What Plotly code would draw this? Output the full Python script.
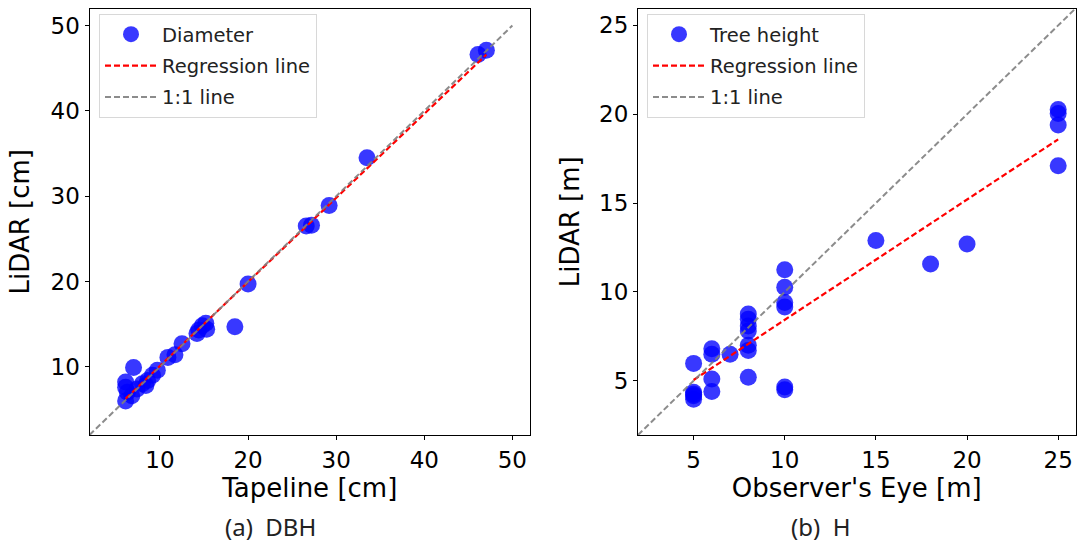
import plotly.graph_objects as go

# ---- data ----
dbh_tape = [47.05, 46.1, 33.5, 29.2, 26.6, 27.2, 20.0, 18.5, 15.2, 14.4, 15.3, 14.8,
            12.5, 11.7, 10.9, 9.7, 9.15, 8.6, 8.0, 7.0, 6.1, 6.1, 6.8, 6.1, 7.4, 8.4,
            6.3, 14.2]
dbh_lidar = [47.1, 46.6, 34.5, 28.9, 26.5, 26.6, 19.7, 14.7, 15.1, 14.3, 14.4, 14.8,
             12.7, 11.4, 11.1, 9.6, 9.0, 8.4, 8.0, 9.9, 8.2, 7.6, 6.6, 6.0, 7.4, 7.8,
             7.0, 13.9]
dbh_slope, dbh_intercept = 0.985, 0.25
dbh_one_to_one = [2.0, 50.0]

h_eye = [5, 5, 5, 5, 5, 6, 6, 6, 6, 7, 8, 8, 8, 8, 8, 8, 8,
         10, 10, 10, 10, 10, 10, 15, 18, 20, 25, 25, 25, 25]
h_lidar = [5.98, 4.35, 4.16, 3.96, 4.25, 6.8, 6.5, 5.1, 4.4, 6.5, 8.76, 8.47, 8.08,
           7.8, 7.0, 6.7, 5.2, 11.25, 10.27, 9.4, 9.15, 4.65, 4.5, 12.9, 11.57, 12.7,
           20.27, 20.04, 19.4, 17.1]
h_slope, h_intercept = 0.677, 1.66
h_one_to_one = [1.95, 25.95]

dbh_ticks = [10, 20, 30, 40, 50]
h_ticks = [5, 10, 15, 20, 25]

BLUE = "rgba(0,0,255,0.78)"
FONT = "DejaVu Sans"

W, H = 1077, 546


def px(sx):
    return sx / W


def py(sy):
    return 1 - sy / H


fig = go.Figure()


def reg_line(xs, slope, intercept):
    x0, x1 = min(xs), max(xs)
    return [x0, x1], [slope * x0 + intercept, slope * x1 + intercept]


# left panel
fig.add_trace(go.Scatter(x=dbh_tape, y=dbh_lidar, mode="markers", name="Diameter",
                         marker=dict(size=17, color=BLUE, line=dict(width=0)),
                         xaxis="x", yaxis="y", legend="legend", legendgroup="a1"))
rx, ry = reg_line(dbh_tape, dbh_slope, dbh_intercept)
fig.add_trace(go.Scatter(x=rx, y=ry, mode="lines", name="Regression line",
                         line=dict(color="red", width=2.2, dash="6px,3px"),
                         xaxis="x", yaxis="y", legend="legend", legendgroup="a2"))
fig.add_trace(go.Scatter(x=dbh_one_to_one, y=dbh_one_to_one, mode="lines", name="1:1 line",
                         line=dict(color="rgba(128,128,128,0.9)", width=2, dash="6px,3px"),
                         xaxis="x", yaxis="y", legend="legend", legendgroup="a3"))

# right panel
fig.add_trace(go.Scatter(x=h_eye, y=h_lidar, mode="markers", name="Tree height",
                         marker=dict(size=17, color=BLUE, line=dict(width=0)),
                         xaxis="x2", yaxis="y2", legend="legend2", legendgroup="b1"))
rx, ry = reg_line(h_eye, h_slope, h_intercept)
fig.add_trace(go.Scatter(x=rx, y=ry, mode="lines", name="Regression line",
                         line=dict(color="red", width=2.2, dash="6px,3px"),
                         xaxis="x2", yaxis="y2", legend="legend2", legendgroup="b2"))
fig.add_trace(go.Scatter(x=h_one_to_one, y=h_one_to_one, mode="lines", name="1:1 line",
                         line=dict(color="rgba(128,128,128,0.9)", width=2, dash="6px,3px"),
                         xaxis="x2", yaxis="y2", legend="legend2", legendgroup="b3"))

axis_common = dict(showline=True, linecolor="black", linewidth=1, mirror=True,
                   ticks="outside", ticklen=4, tickcolor="black", showgrid=False,
                   zeroline=False, automargin=False,
                   tickfont=dict(family=FONT, size=23, color="black"))
title_font = dict(family=FONT, size=26, color="black")

ydom = [py(435), py(8.5)]
legend_common = dict(xanchor="left", yanchor="top",
                     bgcolor="white", bordercolor="#d8d8d8", borderwidth=1,
                     font=dict(family=FONT, size=19.5, color="#222"),
                     tracegroupgap=3, itemwidth=52)
fig.update_layout(
    width=W, height=H, autosize=False,
    margin=dict(l=0, r=0, t=0, b=0),
    paper_bgcolor="white", plot_bgcolor="white",
    showlegend=True,
    xaxis=dict(domain=[px(89.5), px(530)], range=[2, 52], tickvals=dbh_ticks,
               title=dict(text="Tapeline [cm]", font=title_font, standoff=7),
               anchor="y", **axis_common),
    yaxis=dict(domain=ydom, range=[2, 52], tickvals=dbh_ticks,
               title=dict(text="LiDAR [cm]", font=title_font, standoff=13),
               anchor="x", **axis_common),
    xaxis2=dict(domain=[px(638), px(1075.5)], range=[1.95, 25.95], tickvals=h_ticks,
                title=dict(text="Observer's Eye [m]", font=title_font, standoff=7),
                anchor="y2", **axis_common),
    yaxis2=dict(domain=ydom, range=[1.95, 25.95], tickvals=h_ticks,
                title=dict(text="LiDAR [m]", font=title_font, standoff=12),
                anchor="x2", **axis_common),
    legend=dict(x=px(99), y=py(14), **legend_common),
    legend2=dict(x=px(647), y=py(14), **legend_common),
    annotations=[
        dict(text="(a)  DBH", x=px(270), y=py(526), xref="paper", yref="paper",
             xanchor="center", yanchor="middle",
             showarrow=False, font=dict(family="Noto Sans", size=24, color="#222")),
        dict(text="(b)  H", x=px(820), y=py(526), xref="paper", yref="paper",
             xanchor="center", yanchor="middle",
             showarrow=False, font=dict(family="Noto Sans", size=24, color="#222")),
    ],
)

fig.write_html("out.html", default_width=f"{W}px", default_height=f"{H}px",
               config={"displayModeBar": False},
               post_script="document.body.style.margin='0';"
                           "document.body.style.overflow='hidden';")
